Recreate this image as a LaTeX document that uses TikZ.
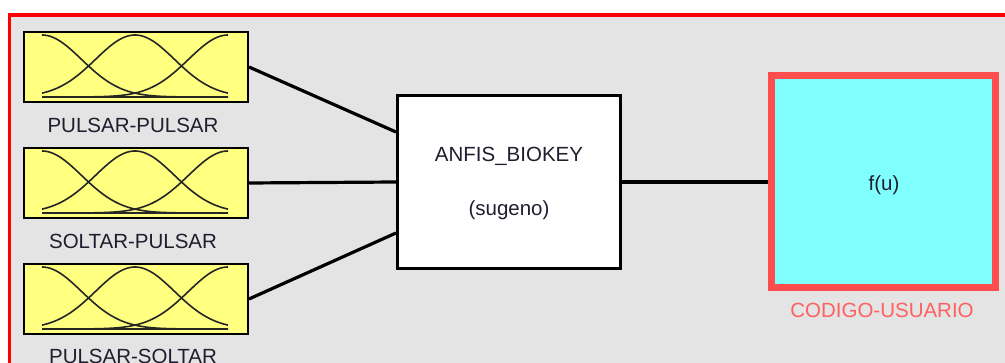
\documentclass[tikz,border=0pt]{standalone}
\usepackage{fontspec}
\setmainfont{Liberation Sans}
\definecolor{bggray}{HTML}{E4E4E4}
\definecolor{mfyellow}{HTML}{FFFF80}
\definecolor{fucyan}{HTML}{80FFFF}
\definecolor{fured}{HTML}{FF4D4D}
\definecolor{labred}{HTML}{FF6060}
\definecolor{txt}{HTML}{1E1E2E}
\newcommand\mfcurves[1]{%
  \foreach \c in {42,135,228}{%
    \draw[mf] plot[domain=42:228, samples=70, smooth] (\x, {#1+30-62*exp(-0.5*((\x-\c)/39.5)^2)});
  }%
  \draw[mf] (42,{#1+30}) -- (228,{#1+30});
}
\tikzset{
  inbox/.style={draw=black, line width=2pt, fill=mfyellow, minimum width=224pt, minimum height=70pt, inner sep=0pt},
  mf/.style={line width=1.6pt, black!85},
  lab/.style={anchor=base, text=txt, font=\fontsize{20.5}{24}\selectfont, inner sep=0pt},
  conn/.style={line width=3.2pt, black},
}
\begin{document}
\begin{tikzpicture}[x=1pt, y=-1pt]
\useasboundingbox (0,0) rectangle (1005,363);
\clip (0,0) rectangle (1005,363);
\fill[white] (0,0) rectangle (1005,363);
\draw[red, line width=3.5pt, fill=bggray] (9.5,15) rectangle (1020,380);
% input blocks
\node[inbox] (in1) at (136,67) {};
\node[inbox] (in2) at (136,183) {};
\node[inbox] (in3) at (136,299) {};
\mfcurves{67}
\mfcurves{183}
\mfcurves{299}
\node[lab] (lab1) at (133,133) {PULSAR-PULSAR};
\node[lab] (lab2) at (133,249) {SOLTAR-PULSAR};
\node[lab] (lab3) at (133,364) {PULSAR-SOLTAR};
% ANFIS block
\node[draw=black, line width=3pt, fill=white, minimum width=223pt, minimum height=173pt, inner sep=0pt] (anfis) at (509,182) {};
\node[lab] (anfist) at (509,162) {ANFIS\_BIOKEY};
\node[lab] (anfiss) at (509,216) {(sugeno)};
% output block
\node[draw=fured, line width=7pt, fill=fucyan, minimum width=224pt, minimum height=212pt, inner sep=0pt] (fu) at (883.5,182) {};
\node[lab] (fut) at (884,191) {f(u)};
\node[lab, text=labred] (fulab) at (882,318) {CODIGO-USUARIO};
% connectors
\draw[conn] (in1.east) -- ([yshift=50pt]anfis.west);
\draw[conn] (in2.east) -- (anfis.west);
\draw[conn] (in3.east) -- ([yshift=-51pt]anfis.west);
\draw[conn] (anfis.east) -- (fu.west);
\end{tikzpicture}
\end{document}
